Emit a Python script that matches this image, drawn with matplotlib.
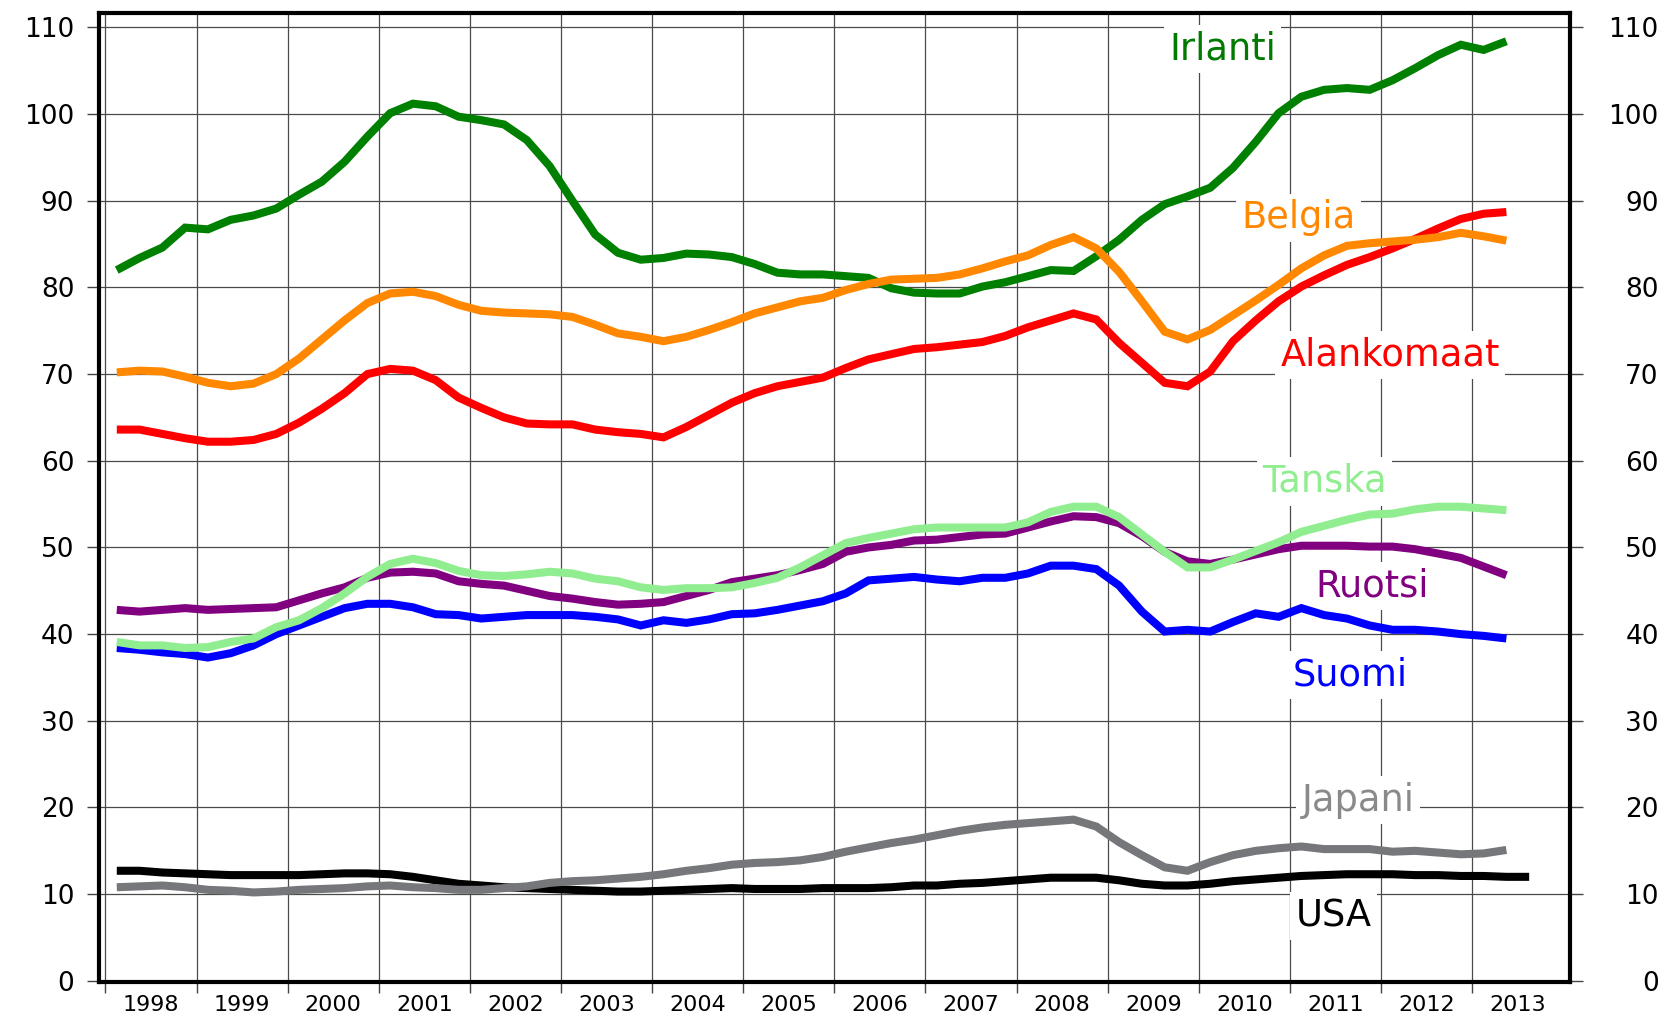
import numpy as np
import matplotlib.pyplot as plt
import matplotlib.transforms as mtransforms

# quarterly values, 1998Q1 ... 2013Q2 (USA one quarter more)
irlanti = [82.0, 83.4, 84.6, 86.9, 86.7, 87.8, 88.3, 89.1, 90.7, 92.2, 94.5, 97.4,
           100.1, 101.2, 100.9, 99.7, 99.3, 98.8, 97.0, 94.0, 90.0, 86.1, 84.0, 83.2,
           83.4, 83.9, 83.8, 83.5, 82.7, 81.7, 81.5, 81.5, 81.3, 81.1, 79.9, 79.4,
           79.3, 79.3, 80.1, 80.6, 81.3, 82.0, 81.9, 83.6, 85.5, 87.8, 89.6, 90.5,
           91.5, 93.8, 96.8, 100.1, 102.0, 102.8, 103.0, 102.8, 103.9, 105.3, 106.8, 108.0,
           107.4, 108.4]
belgia = [70.2, 70.4, 70.3, 69.7, 69.0, 68.6, 68.9, 70.0, 71.8, 74.0, 76.2, 78.2,
          79.3, 79.5, 79.0, 78.0, 77.3, 77.1, 77.0, 76.9, 76.6, 75.7, 74.7, 74.3,
          73.8, 74.3, 75.1, 76.0, 77.0, 77.7, 78.4, 78.8, 79.7, 80.4, 80.9, 81.0,
          81.1, 81.5, 82.2, 83.0, 83.7, 84.9, 85.8, 84.5, 81.8, 78.4, 74.9, 74.0,
          75.1, 76.8, 78.5, 80.3, 82.2, 83.7, 84.8, 85.1, 85.3, 85.5, 85.8, 86.3,
          85.9, 85.4]
alankomaat = [63.6, 63.6, 63.1, 62.6, 62.2, 62.2, 62.4, 63.1, 64.4, 66.0, 67.8, 70.0,
              70.6, 70.4, 69.3, 67.3, 66.1, 65.0, 64.3, 64.2, 64.2, 63.6, 63.3, 63.1,
              62.7, 63.9, 65.3, 66.7, 67.8, 68.6, 69.1, 69.6, 70.7, 71.7, 72.3, 72.9,
              73.1, 73.4, 73.7, 74.4, 75.4, 76.2, 77.0, 76.3, 73.6, 71.3, 69.0, 68.6,
              70.3, 73.8, 76.2, 78.4, 80.1, 81.4, 82.6, 83.5, 84.5, 85.6, 86.8, 87.9,
              88.5, 88.7]
tanska = [39.1, 38.7, 38.7, 38.4, 38.5, 39.1, 39.5, 40.8, 41.6, 43.0, 44.7, 46.6,
          48.1, 48.7, 48.2, 47.3, 46.8, 46.7, 46.9, 47.2, 47.0, 46.4, 46.1, 45.4,
          45.1, 45.3, 45.3, 45.4, 45.9, 46.5, 47.7, 49.1, 50.5, 51.1, 51.6, 52.1,
          52.3, 52.3, 52.3, 52.3, 52.9, 54.1, 54.7, 54.7, 53.5, 51.5, 49.5, 47.7,
          47.7, 48.6, 49.6, 50.6, 51.8, 52.5, 53.2, 53.8, 53.9, 54.4, 54.7, 54.7,
          54.5, 54.3]
ruotsi = [42.8, 42.6, 42.8, 43.0, 42.8, 42.9, 43.0, 43.1, 43.9, 44.7, 45.4, 46.5,
          47.1, 47.2, 47.0, 46.1, 45.8, 45.6, 45.0, 44.4, 44.1, 43.7, 43.4, 43.5,
          43.7, 44.4, 45.1, 46.0, 46.4, 46.8, 47.4, 48.1, 49.5, 50.0, 50.3, 50.8,
          50.9, 51.2, 51.5, 51.6, 52.3, 53.0, 53.6, 53.5, 52.8, 51.3, 49.5, 48.4,
          48.1, 48.6, 49.2, 49.8, 50.2, 50.2, 50.2, 50.1, 50.1, 49.8, 49.3, 48.8,
          47.8, 46.8]
suomi = [38.4, 38.2, 37.9, 37.7, 37.3, 37.8, 38.7, 40.0, 41.0, 42.0, 43.0, 43.5,
         43.5, 43.1, 42.3, 42.2, 41.8, 42.0, 42.2, 42.2, 42.2, 42.0, 41.7, 41.0,
         41.6, 41.3, 41.7, 42.3, 42.4, 42.8, 43.3, 43.8, 44.7, 46.2, 46.4, 46.6,
         46.3, 46.1, 46.5, 46.5, 47.0, 47.9, 47.9, 47.5, 45.6, 42.6, 40.3, 40.5,
         40.3, 41.4, 42.4, 42.0, 43.0, 42.2, 41.8, 41.0, 40.5, 40.5, 40.3, 40.0,
         39.8, 39.5]
japani = [10.8, 10.9, 11.0, 10.8, 10.5, 10.4, 10.2, 10.3, 10.5, 10.6, 10.7, 10.9,
          11.0, 10.8, 10.7, 10.5, 10.5, 10.7, 10.9, 11.3, 11.5, 11.6, 11.8, 12.0,
          12.3, 12.7, 13.0, 13.4, 13.6, 13.7, 13.9, 14.3, 14.9, 15.4, 15.9, 16.3,
          16.8, 17.3, 17.7, 18.0, 18.2, 18.4, 18.6, 17.8, 16.0, 14.5, 13.1, 12.7,
          13.7, 14.5, 15.0, 15.3, 15.5, 15.2, 15.2, 15.2, 14.9, 15.0, 14.8, 14.6,
          14.7, 15.1]
usa = [12.7, 12.7, 12.5, 12.4, 12.3, 12.2, 12.2, 12.2, 12.2, 12.3, 12.4, 12.4,
       12.3, 12.0, 11.6, 11.2, 11.0, 10.8, 10.7, 10.6, 10.5, 10.4, 10.3, 10.3,
       10.4, 10.5, 10.6, 10.7, 10.6, 10.6, 10.6, 10.7, 10.7, 10.7, 10.8, 11.0,
       11.0, 11.2, 11.3, 11.5, 11.7, 11.9, 11.9, 11.9, 11.6, 11.2, 11.0, 11.0,
       11.2, 11.5, 11.7, 11.9, 12.1, 12.2, 12.3, 12.3, 12.3, 12.2, 12.2, 12.1,
       12.1, 12.0, 12.0]

years = list(range(1998, 2014))
yticks = list(range(0, 111, 10))

# name, values, line colour, text colour, label x, label baseline y
series = [
    ("USA", usa, "#000000", "#000000", 2011.48, 6.3),
    ("Japani", japani, "#76777a", "#8a8a8a", 2011.75, 19.6),
    ("Suomi", suomi, "#0000ff", "#0000ff", 2011.66, 34.1),
    ("Ruotsi", ruotsi, "#800080", "#800080", 2011.90, 44.3),
    ("Tanska", tanska, "#90ee90", "#90ee90", 2011.38, 56.4),
    ("Alankomaat", alankomaat, "#ff0000", "#ff0000", 2012.10, 71.0),
    ("Irlanti", irlanti, "#008000", "#007a00", 2010.26, 106.3),
    ("Belgia", belgia, "#ff8800", "#ff8800", 2011.09, 86.8),
]

fig = plt.figure(figsize=(16.66, 10.13), dpi=100)
ax = fig.add_axes([0.0596, 0.0302, 0.8826, 0.9573])

for i, (name, vals, col, tcol, lx, ly) in enumerate(series):
    x = 1998.125 + 0.25 * np.arange(len(vals))
    ax.plot(x, vals, color=col, lw=5.8, solid_capstyle='butt',
            solid_joinstyle='miter', zorder=3 + i)
    ax.text(lx, ly, name, color=tcol, fontsize=26.5, ha='center', va='baseline',
            zorder=2, bbox=dict(facecolor='white', edgecolor='none', pad=4))

ax.set_xlim(1997.933, 2014.07)
ax.set_ylim(-0.18, 111.7)

# year boundaries carry the ticks and grid, labels sit mid-year
ax.set_xticks(years)
ax.set_xticklabels([])
ax.set_xticks([y + 0.5 for y in years], minor=True)
ax.set_xticklabels([str(y) for y in years], minor=True, fontsize=16)
ax.tick_params(axis='x', which='major', length=8, width=1, color='#444444', direction='out')
ax.tick_params(axis='x', which='minor', length=0, pad=9)

ax.set_yticks(yticks)
ax.set_yticklabels([str(v) for v in yticks], fontsize=19)
ax.tick_params(axis='y', length=9, width=1, color='#444444', direction='out',
               right=True, labelright=True, pad=9)

# right side labels are right aligned near the figure edge
off = mtransforms.ScaledTranslation(64 / 100, 0, fig.dpi_scale_trans)
for t in ax.yaxis.get_major_ticks():
    t.label2.set_horizontalalignment('right')
    t.label2.set_transform(t.label2.get_transform() + off)

ax.grid(True, which='major', color='#4a4a4a', lw=0.9, zorder=0)
ax.set_axisbelow(True)

for s in ax.spines.values():
    s.set_linewidth(3)
    s.set_color('black')
    s.set_zorder(20)

fig.savefig("out.png", dpi=100)
